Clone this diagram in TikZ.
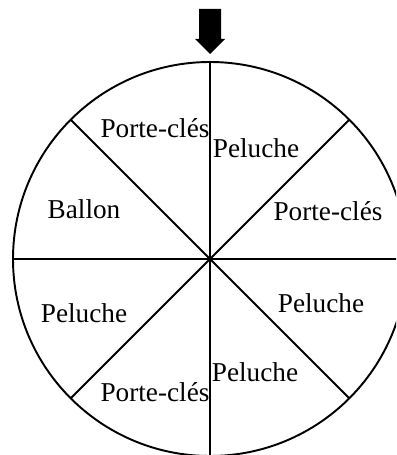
\documentclass[tikz,border=0pt]{standalone}
\usepackage{fontspec}
\setmainfont{Liberation Serif}
\usepackage{tikz}
\usetikzlibrary{calc}

\begin{document}
\begin{tikzpicture}[
			x=0.02cm, y=-0.02cm,
			wheel/.style={line width=1.1pt},
			prize/.style={font=\fontsize{15.5}{18}\selectfont, inner sep=0pt}
		]
		\useasboundingbox (0,0) rectangle (396,455);
		\clip (0,0) rectangle (396,455);
		\coordinate (c) at (210,259);
		
		% wheel
		\draw[wheel] (c) circle[radius=197];
		\foreach \a in {0,45,...,315}
			\coordinate (r\a) at ($(c)+(\a:197)$);
		\draw[wheel] (r90) -- (r270);
		\draw[wheel] (r0) -- (r180);
		\draw[wheel] (r45) -- (r225);
		\draw[wheel] (r135) -- (r315);
		
		% pointer
		\fill (199,9) -- (221,9) -- (221,39) -- (225,39) -- (210,54) -- (195,39) -- (199,39) -- cycle;
		
		% prizes
		\node[prize] (p1) at (155,128) {Porte-clés};
		\node[prize] (p2) at (256,148) {Peluche};
		\node[prize] (p3) at (328,211) {Porte-clés};
		\node[prize] (p4) at (321,303) {Peluche};
		\node[prize] (p5) at (255,372) {Peluche};
		\node[prize] (p6) at (155,392) {Porte-clés};
		\node[prize] (p7) at (84,313) {Peluche};
		\node[prize] (p8) at (84,209) {Ballon};
	\end{tikzpicture}
\end{document}
